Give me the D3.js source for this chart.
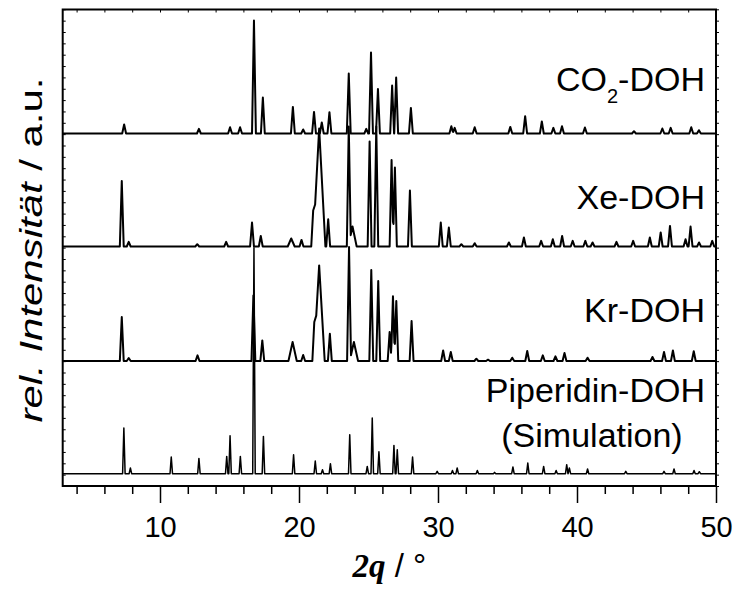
<!DOCTYPE html>
<html>
<head>
<meta charset="utf-8">
<script src="https://cdn.jsdelivr.net/npm/d3@7/dist/d3.min.js"></script>
<style>
  body { margin: 0; background: #fff; }
  svg text { font-family: "Liberation Sans", Arial, sans-serif; fill: #000; }
  .trace { fill: none; stroke: #000; stroke-linejoin: round; }
</style>
</head>
<body>
<div class="container"></div>
<script>
// peaks: [2theta, height (a.u.), optional half width]
var co2Peaks = [
  [7.42, 9], [12.8, 4.7], [15.04, 6.3], [15.76, 6.3], [16.76, 113], [17.4, 36],
  [19.56, 26.6], [20.3, 4], [21.08, 21.6], [21.64, 11], [22.19, 21.3], [23.58, 60],
  [24.84, 4.7], [25.18, 81], [25.68, 44.5], [26.7, 48], [26.99, 56], [28.05, 25.6],
  [30.96, 7.3], [31.2, 5.6], [32.64, 6.3], [35.2, 6.6], [36.27, 17.3], [37.47, 12],
  [38.3, 5.6], [38.92, 7.3], [40.57, 6], [44.1, 2.3], [46.14, 5], [46.74, 5.6],
  [48.22, 6.3], [48.77, 3.3]
];
var xePeaks = [
  [7.25, 65.5], [7.75, 4.7], [12.68, 2.3], [14.76, 4.7], [16.62, 24], [17.25, 10.6],
  [19.44, 8, 0.25], [20.18, 6.6], [21.02, 36], [21.45, 118, 0.45], [22.1, 27.3],
  [23.58, 120], [23.85, 20, 0.3], [25.08, 105], [25.56, 120], [26.66, 86.5], [26.9, 79],
  [27.98, 56], [30.2, 24], [30.78, 19], [31.68, 2.3], [32.64, 3.3], [35.1, 4],
  [36.18, 9], [37.42, 5.6], [38.26, 7.3], [38.93, 10.6], [39.69, 5.6], [40.6, 5.6],
  [41.12, 4], [42.84, 4.7], [44.04, 5.6], [45.24, 9], [46.02, 14], [46.69, 20.6],
  [47.81, 7.3], [48.17, 20], [48.78, 4], [49.73, 5.6]
];
var krPeaks = [
  [7.25, 44], [7.75, 3], [12.7, 5.6], [16.72, 65.6], [17.36, 20.6], [19.54, 19, 0.3],
  [20.3, 6], [21.1, 39], [21.45, 95.6, 0.4], [22.22, 27.3], [23.6, 114], [23.95, 19, 0.3],
  [25.2, 91], [25.7, 80], [26.52, 29], [26.76, 64.7], [27.0, 60], [28.1, 40],
  [30.37, 10.6], [30.92, 9], [32.76, 2.3], [33.6, 1.3], [35.34, 3.3], [36.42, 10],
  [37.54, 5.6], [38.45, 4.7], [39.1, 8], [40.76, 3.3], [45.43, 4], [46.26, 9],
  [46.9, 10.6], [48.4, 9.7]
];
var simPeaks = [
  [7.4, 45.7], [7.87, 5.7], [10.81, 16.7], [12.8, 15.3], [14.8, 17.3], [15.04, 38],
  [15.78, 17.3], [16.76, 226], [17.44, 37.3], [19.61, 19], [21.17, 12.7], [21.69, 4],
  [22.26, 10], [23.65, 39], [24.91, 7.3], [25.27, 55.7], [25.75, 22], [26.83, 28.3],
  [27.07, 24], [28.17, 16.7], [29.94, 2.3], [31.04, 3.3], [31.38, 5.7], [32.83, 3.3],
  [34.07, 1.3], [35.39, 6.7], [36.46, 10.7], [37.6, 7.3], [38.5, 3.3], [39.26, 9],
  [39.45, 5.7], [40.76, 4.7], [43.51, 2.3], [46.26, 2.3], [46.98, 4.7], [48.42, 3.3],
  [48.8, 2]
];

var seriesNames = ["CO2-DOH", "Xe-DOH", "Kr-DOH", "Piperidin-DOH"];
var seriesPeaks = [co2Peaks, xePeaks, krPeaks, simPeaks];
var seriesOffsets = [352.5, 239.5, 125, 12.3];
var xTicks = [10, 20, 30, 40, 50];

const WIDTH = 739;
const HEIGHT = 590;
const LEFT = 62.7, RIGHT = 716, TOP = 9.5, BOTTOM = 486;

var svg, xScale, yScale;

var translate = function(x, y){
	return "translate(" + x + "," + y + ")";
};

// profile of a pattern: max over triangular peaks, evaluated at the peak vertices
var profile = function(peaks, hw){
	var xs = [xScale.domain()[0], xScale.domain()[1]];
	peaks.forEach(function(p){
		var w = p[2] || hw;
		xs.push(p[0] - w, p[0], p[0] + w);
	});
	xs = xs.filter(function(x){ return x >= xScale.domain()[0] && x <= xScale.domain()[1]; })
		.sort(d3.ascending);
	return xs.map(function(x){
		var y = 0;
		peaks.forEach(function(p){
			var w = p[2] || hw;
			var v = p[1] * (1 - Math.abs(x - p[0]) / w);
			if (v > y) y = v;
		});
		return [x, y];
	});
};

var loadChart = function(){
	svg = d3.select('.container').append('svg')
		.attr('width', WIDTH)
		.attr('height', HEIGHT);

	xScale = d3.scaleLinear().domain([3, 50]).range([LEFT, RIGHT]);
	yScale = d3.scaleLinear().domain([0, 476.5]).range([BOTTOM, TOP]);

	// traces
	seriesPeaks.forEach(function(peaks, i){
		var sim = i == 3;
		var off = seriesOffsets[i];
		var line = d3.line()
			.x(function(d){ return xScale(d[0]); })
			.y(function(d){ return yScale(d[1] + off); });
		svg.append('path')
			.classed('trace', true)
			.attr('stroke-width', sim ? 1.5 : 2)
			.attr('d', line(profile(peaks, sim ? 0.09 : 0.14)));
	});

	// bottom axis: major + minor ticks
	var xAxis = d3.axisBottom(xScale).tickValues(xTicks).tickSize(17).tickPadding(13)
		.tickFormat(d3.format('d'));
	var gx = svg.append('g').attr('transform', translate(0, BOTTOM)).call(xAxis);
	gx.select('.domain').remove();
	gx.selectAll('line').attr('stroke-width', 1.5);
	gx.selectAll('text').style('font-size', '29px').attr('font-family', null);

	var minor = d3.range(4, 50, 2).filter(function(v){ return v % 10 != 0; });
	svg.append('g').attr('transform', translate(0, BOTTOM))
		.call(d3.axisBottom(xScale).tickValues(minor).tickSize(8).tickFormat(''))
		.call(function(g){ g.select('.domain').remove(); })
		.selectAll('line').attr('stroke-width', 1.5);

	// top: small inward ticks
	svg.append('g').attr('transform', translate(0, TOP))
		.call(d3.axisBottom(xScale).tickValues(d3.range(4, 50, 2)).tickSize(3).tickFormat(''))
		.call(function(g){ g.select('.domain').remove(); });

	// side ticks
	var yTick = d3.scaleLinear().domain([0, 42]).range([BOTTOM, TOP + 476.5 - 42 * 11.35]);
	svg.append('g').attr('transform', translate(LEFT, 0))
		.call(d3.axisRight(yTick).ticks(42).tickSize(3).tickFormat(''))
		.call(function(g){ g.select('.domain').remove(); });
	svg.append('g').attr('transform', translate(RIGHT, 0))
		.call(d3.axisRight(yTick).ticks(42).tickSize(3).tickFormat(''))
		.call(function(g){ g.select('.domain').remove(); });

	// frame
	svg.append('rect')
		.attr('x', LEFT).attr('y', TOP)
		.attr('width', RIGHT - LEFT).attr('height', BOTTOM - TOP)
		.attr('fill', 'none').attr('stroke', '#000').attr('stroke-width', 2);

	// series labels
	var lab = svg.append('g').style('font-size', '34px');
	var co2 = lab.append('text').attr('x', 705).attr('y', 91).attr('text-anchor', 'end');
	co2.append('tspan').text('CO');
	co2.append('tspan').attr('dy', 12).style('font-size', '20px').text('2');
	co2.append('tspan').attr('dy', -12).text('-DOH');
	lab.append('text').attr('x', 705).attr('y', 209).attr('text-anchor', 'end').text(seriesNames[1]);
	lab.append('text').attr('x', 705).attr('y', 322).attr('text-anchor', 'end').text(seriesNames[2]);
	lab.append('text').attr('x', 705).attr('y', 402).attr('text-anchor', 'end').text(seriesNames[3]);
	lab.append('text').attr('x', 592).attr('y', 447).attr('text-anchor', 'middle').text('(Simulation)');

	// axis titles
	var xl = svg.append('text').attr('x', (LEFT + RIGHT) / 2).attr('y', 577)
		.attr('text-anchor', 'middle').style('font-size', '33px');
	xl.append('tspan').style('font-family', '"Liberation Serif", serif')
		.style('font-weight', 'bold').style('font-style', 'italic').text('2q');
	xl.append('tspan').text(' / °');

	var yl = svg.append('text')
		.attr('transform', translate(42, 250) + ' rotate(-90)')
		.attr('text-anchor', 'middle').style('font-size', '32px')
		.attr('textLength', 345).attr('lengthAdjust', 'spacingAndGlyphs');
	yl.append('tspan').style('font-style', 'italic').text('rel. Intensität');
	yl.append('tspan').text(' / a.u.');
};

window.onload = function(){
	loadChart();
};
</script>
</body>
</html>
